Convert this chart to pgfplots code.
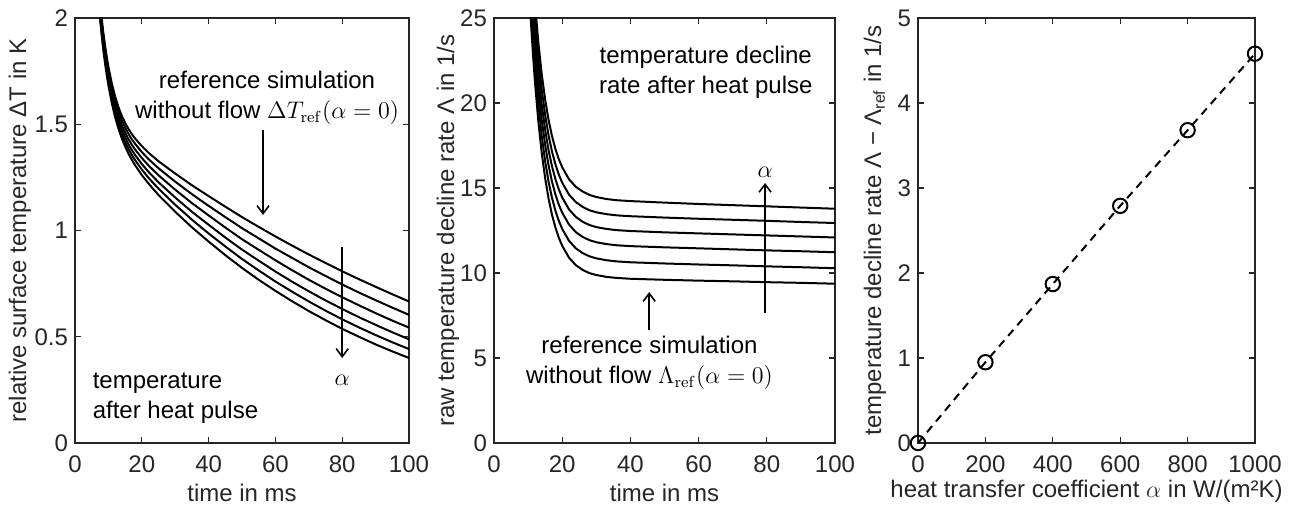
\documentclass[border=0pt]{standalone}
\usepackage[no-math]{fontspec}
\setmainfont{Liberation Sans}
\usepackage{pgfplots}
\pgfplotsset{compat=1.18}
\usetikzlibrary{arrows.meta}
\definecolor{ax}{gray}{0.15}
\newcommand{\fs}{\fontsize{12}{15}\selectfont}
\tikzset{arr/.style={black, line width=0.8pt, -{Straight Barb[length=4pt,width=6pt]}}}
\pgfplotsset{
  mlab/.style={
    scale only axis,
    height=212.5pt,
    axis line style={ax, line width=0.8pt},
    every tick/.style={ax, line width=0.6pt},
    major tick length=3pt,
    tick align=inside,
    /pgf/number format/assume math mode=true,
    /pgf/number format/1000 sep={},
    tick label style={font=\fs, text=ax},
    every axis x label/.style={at={(axis description cs:0.5,0)}, anchor=center, yshift=-25pt, font=\fs, text=ax},
    xticklabel style={yshift=-2.7pt},
  },
  curve/.style={black, line width=1pt, no marks},
}
\begin{document}
\begin{tikzpicture}
\useasboundingbox (0,0) rectangle (647pt,253pt);
% ---------------- panel 1
\begin{axis}[mlab, at={(37.5pt,31.5pt)}, anchor=south west, width=167pt,
  xmin=0, xmax=100, ymin=0, ymax=2,
  xtick={0,20,40,60,80,100}, ytick={0,0.5,1,1.5,2},
  xlabel={time in ms},
  ylabel={relative surface temperature ΔT in K},
  every axis y label/.style={at={(axis description cs:0,0.5)}, xshift=-27.5pt, rotate=90, anchor=center, font=\fs, text=ax},
]
\addplot[curve] coordinates {(6.5,2.259)(7,2.160)(7.5,2.073)(8,1.997)(8.5,1.929)(9,1.870)(9.5,1.818)(10,1.771)(11,1.693)(12,1.631)(13,1.581)(14,1.540)(15,1.507)(16,1.478)(17,1.454)(18,1.433)(20,1.397)(22,1.366)(25,1.326)(30,1.268)(35,1.213)(40,1.162)(45,1.112)(50,1.063)(55,1.017)(60,0.972)(65,0.929)(70,0.887)(75,0.847)(80,0.808)(85,0.771)(90,0.735)(95,0.700)(100,0.666)};
\addplot[curve] coordinates {(6.5,2.244)(7,2.145)(7.5,2.057)(8,1.981)(8.5,1.913)(9,1.853)(9.5,1.801)(10,1.753)(11,1.675)(12,1.612)(13,1.561)(14,1.519)(15,1.485)(16,1.455)(17,1.429)(18,1.408)(20,1.369)(22,1.336)(25,1.293)(30,1.230)(35,1.171)(40,1.116)(45,1.063)(50,1.011)(55,0.963)(60,0.915)(65,0.871)(70,0.827)(75,0.786)(80,0.746)(85,0.708)(90,0.672)(95,0.637)(100,0.603)};
\addplot[curve] coordinates {(6.5,2.229)(7,2.129)(7.5,2.041)(8,1.964)(8.5,1.896)(9,1.836)(9.5,1.783)(10,1.735)(11,1.655)(12,1.591)(13,1.539)(14,1.496)(15,1.461)(16,1.430)(17,1.404)(18,1.381)(20,1.341)(22,1.306)(25,1.260)(30,1.192)(35,1.129)(40,1.071)(45,1.014)(50,0.959)(55,0.909)(60,0.860)(65,0.813)(70,0.768)(75,0.726)(80,0.686)(85,0.648)(90,0.611)(95,0.576)(100,0.543)};
\addplot[curve] coordinates {(6.5,2.214)(7,2.114)(7.5,2.025)(8,1.948)(8.5,1.879)(9,1.819)(9.5,1.765)(10,1.717)(11,1.636)(12,1.571)(13,1.519)(14,1.475)(15,1.439)(16,1.406)(17,1.379)(18,1.355)(20,1.313)(22,1.276)(25,1.227)(30,1.155)(35,1.088)(40,1.027)(45,0.967)(50,0.910)(55,0.858)(60,0.807)(65,0.759)(70,0.714)(75,0.671)(80,0.631)(85,0.592)(90,0.556)(95,0.521)(100,0.488)};
\addplot[curve] coordinates {(6.5,2.200)(7,2.099)(7.5,2.010)(8,1.932)(8.5,1.863)(9,1.802)(9.5,1.749)(10,1.700)(11,1.618)(12,1.553)(13,1.499)(14,1.454)(15,1.417)(16,1.384)(17,1.356)(18,1.331)(20,1.287)(22,1.248)(25,1.197)(30,1.121)(35,1.051)(40,0.986)(45,0.925)(50,0.866)(55,0.812)(60,0.760)(65,0.712)(70,0.666)(75,0.623)(80,0.582)(85,0.544)(90,0.508)(95,0.474)(100,0.442)};
\addplot[curve] coordinates {(6.5,2.185)(7,2.084)(7.5,1.995)(8,1.917)(8.5,1.847)(9,1.786)(9.5,1.732)(10,1.683)(11,1.601)(12,1.534)(13,1.480)(14,1.434)(15,1.396)(16,1.362)(17,1.333)(18,1.307)(20,1.261)(22,1.221)(25,1.167)(30,1.088)(35,1.015)(40,0.948)(45,0.884)(50,0.824)(55,0.768)(60,0.716)(65,0.667)(70,0.621)(75,0.578)(80,0.537)(85,0.500)(90,0.464)(95,0.431)(100,0.400)};
\node[font=\fs, text=black, align=center] at (axis cs:57.5,1.624) {reference simulation\\without flow $\Delta T_{\mathrm{ref}}(\alpha=0)$};
\draw[arr] (axis cs:56.3,1.473) -- (axis cs:56.3,1.073);
\draw[arr] (axis cs:80,0.922) -- (axis cs:80,0.40);
\node[font=\fs] at (axis cs:80,0.296) {$\alpha$};
\node[font=\fs, text=black, align=left, anchor=west] at (axis cs:3.2,0.212) {temperature\\after heat pulse};
\end{axis}
% ---------------- panel 2
\begin{axis}[mlab, at={(247pt,31.5pt)}, anchor=south west, width=170.5pt,
  xmin=0, xmax=100, ymin=0, ymax=25,
  xtick={0,20,40,60,80,100}, ytick={0,5,10,15,20,25},
  xlabel={time in ms},
  ylabel={raw temperature decline rate Λ in 1/s},
  every axis y label/.style={at={(axis description cs:0,0.5)}, xshift=-23pt, rotate=90, anchor=center, font=\fs, text=ax},
]
\addplot[curve] coordinates {(10,27.90)(10.5,25.94)(11,24.20)(11.5,22.65)(12,21.27)(13,18.92)(14,17.06)(15,15.57)(16,14.38)(17,13.43)(18,12.68)(19,12.08)(20,11.60)(22,10.90)(24,10.46)(26,10.18)(28,9.99)(30,9.88)(33,9.77)(36,9.71)(40,9.66)(50,9.60)(60,9.55)(70,9.51)(80,9.46)(90,9.42)(100,9.37)};
\addplot[curve] coordinates {(10,28.90)(10.5,26.94)(11,25.20)(11.5,23.65)(12,22.26)(13,19.92)(14,18.05)(15,16.57)(16,15.37)(17,14.43)(18,13.67)(19,13.07)(20,12.59)(22,11.89)(24,11.45)(26,11.17)(28,10.98)(30,10.86)(33,10.75)(36,10.68)(40,10.63)(50,10.56)(60,10.50)(70,10.45)(80,10.39)(90,10.34)(100,10.28)};
\addplot[curve] coordinates {(10,29.85)(10.5,27.90)(11,26.16)(11.5,24.61)(12,23.22)(13,20.88)(14,19.01)(15,17.53)(16,16.33)(17,15.38)(18,14.63)(19,14.02)(20,13.55)(22,12.85)(24,12.40)(26,12.12)(28,11.93)(30,11.81)(33,11.70)(36,11.63)(40,11.58)(50,11.51)(60,11.45)(70,11.39)(80,11.33)(90,11.28)(100,11.22)};
\addplot[curve] coordinates {(10,30.75)(10.5,28.80)(11,27.05)(11.5,25.51)(12,24.12)(13,21.77)(14,19.91)(15,18.42)(16,17.22)(17,16.28)(18,15.52)(19,14.92)(20,14.44)(22,13.74)(24,13.30)(26,13.01)(28,12.82)(30,12.70)(33,12.59)(36,12.52)(40,12.47)(50,12.39)(60,12.33)(70,12.27)(80,12.21)(90,12.15)(100,12.09)};
\addplot[curve] coordinates {(10,31.63)(10.5,29.67)(11,27.93)(11.5,26.38)(12,24.99)(13,22.65)(14,20.78)(15,19.30)(16,18.10)(17,17.15)(18,16.40)(19,15.79)(20,15.31)(22,14.61)(24,14.17)(26,13.89)(28,13.69)(30,13.57)(33,13.46)(36,13.39)(40,13.34)(50,13.26)(60,13.19)(70,13.13)(80,13.07)(90,13.00)(100,12.94)};
\addplot[curve] coordinates {(10,32.54)(10.5,30.59)(11,28.84)(11.5,27.29)(12,25.91)(13,23.56)(14,21.69)(15,20.20)(16,19.01)(17,18.06)(18,17.30)(19,16.70)(20,16.22)(22,15.51)(24,15.07)(26,14.79)(28,14.59)(30,14.47)(33,14.35)(36,14.28)(40,14.23)(50,14.14)(60,14.06)(70,13.99)(80,13.92)(90,13.85)(100,13.78)};
\node[font=\fs, text=black, align=center] at (axis cs:62.1,21.8) {temperature decline\\rate after heat pulse};
\draw[arr] (axis cs:79.5,7.65) -- (axis cs:79.5,15.3);
\node[font=\fs] at (axis cs:79.5,15.94) {$\alpha$};
\draw[arr] (axis cs:45.5,6.65) -- (axis cs:45.5,8.88);
\node[font=\fs, text=black, align=center] at (axis cs:45.6,4.7) {reference simulation\\without flow $\Lambda_{\mathrm{ref}}(\alpha=0)$};
\end{axis}
% ---------------- panel 3
\begin{axis}[mlab, at={(459pt,31.5pt)}, anchor=south west, width=168.5pt,
  xmin=0, xmax=1000, ymin=0, ymax=5, clip=false,
  xtick={0,200,400,600,800,1000}, ytick={0,1,2,3,4,5},
  xticklabel style={inner ysep=1pt, yshift=-2.5pt},
  every axis x label/.style={at={(axis description cs:0.5,0)}, anchor=center, yshift=-24pt, inner sep=1pt, font=\fs, text=ax},
  xlabel={heat transfer coefficient $\alpha$ in W/(m²K)},
  ylabel={temperature decline rate Λ − Λ\textsubscript{ref} in 1/s},
  every axis y label/.style={at={(axis description cs:0,0.5)}, xshift=-21.5pt, rotate=90, anchor=center, font=\fs, text=ax},
]
\addplot[black, line width=1pt, dash pattern=on 4pt off 3pt, mark=o, mark size=3.6pt, mark options={solid, line width=1pt}] coordinates {(0,0)(200,0.95)(400,1.87)(600,2.79)(800,3.68)(1000,4.58)};
\end{axis}
\end{tikzpicture}
\end{document}
